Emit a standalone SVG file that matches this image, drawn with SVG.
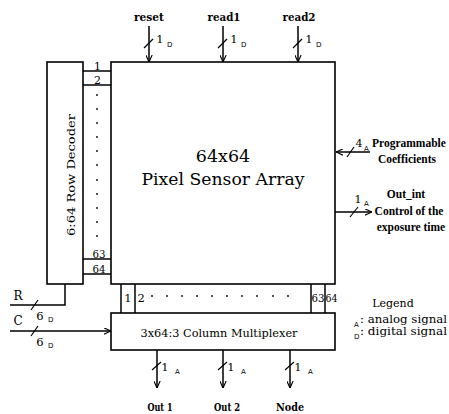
<svg xmlns="http://www.w3.org/2000/svg" width="449" height="414" viewBox="0 0 449 414">
<defs>
<marker id="ah" viewBox="0 0 10 10" refX="10" refY="5" markerUnits="userSpaceOnUse" markerWidth="7" markerHeight="7" orient="auto">
<path d="M0,0.5 L10,5 L0,9.5" fill="none" stroke="#000" stroke-width="1.6"/>
</marker>
</defs>
<style>
.box{fill:#fff;stroke:#000;stroke-width:1.6}
.ln{fill:none;stroke:#000;stroke-width:1.5}
.ar{fill:none;stroke:#000;stroke-width:1.5;marker-end:url(#ah)}
.sl{fill:none;stroke:#000;stroke-width:1.2}
.dot{fill:#000}
</style>
<rect width="449" height="414" fill="#fff"/>

<g id="row-decoder" font-family="DejaVu Serif">
<rect class="box" x="47" y="62" width="36" height="222"/>
<text font-size="11.5" text-anchor="middle" transform="translate(75,175) rotate(-90)" textLength="122" lengthAdjust="spacingAndGlyphs">6:64 Row Decoder</text>
</g>

<g id="row-strip" font-family="DejaVu Serif">
<line class="ln" x1="83" y1="71" x2="111" y2="71"/>
<line class="ln" x1="83" y1="85" x2="111" y2="85"/>
<line class="ln" x1="83" y1="259" x2="111" y2="259"/>
<line class="ln" x1="83" y1="274" x2="111" y2="274"/>
<text font-size="11" x="97.5" y="70" text-anchor="middle">1</text>
<text font-size="11" x="97.5" y="84" text-anchor="middle">2</text>
<text font-size="11" x="99" y="258" text-anchor="middle" textLength="13" lengthAdjust="spacingAndGlyphs">63</text>
<text font-size="11" x="99" y="272.5" text-anchor="middle" textLength="13" lengthAdjust="spacingAndGlyphs">64</text>
<g class="dot">
<circle cx="97" cy="95" r="0.9"/><circle cx="97" cy="109" r="0.9"/><circle cx="97" cy="123" r="0.9"/><circle cx="97" cy="137" r="0.9"/><circle cx="97" cy="151" r="0.9"/><circle cx="97" cy="165" r="0.9"/><circle cx="97" cy="180" r="0.9"/><circle cx="97" cy="194" r="0.9"/><circle cx="97" cy="208" r="0.9"/><circle cx="97" cy="222" r="0.9"/><circle cx="97" cy="236" r="0.9"/>
</g>
</g>

<g id="pixel-array" font-family="DejaVu Serif">
<rect class="box" x="111" y="62" width="224" height="222"/>
<text font-size="17.5" x="223" y="162" text-anchor="middle">64x64</text>
<text font-size="17.5" x="223" y="185" text-anchor="middle" textLength="163" lengthAdjust="spacingAndGlyphs">Pixel Sensor Array</text>
</g>

<g id="column-strip" font-family="DejaVu Serif">
<line class="ln" x1="121" y1="284" x2="121" y2="313"/>
<line class="ln" x1="135" y1="284" x2="135" y2="313"/>
<line class="ln" x1="311" y1="284" x2="311" y2="313"/>
<line class="ln" x1="325" y1="284" x2="325" y2="313"/>
<text font-size="11.5" x="128" y="302" text-anchor="middle">1</text>
<text font-size="11.5" x="137.5" y="302">2</text>
<text font-size="11.5" x="318" y="302" text-anchor="middle" textLength="13" lengthAdjust="spacingAndGlyphs">63</text>
<text font-size="11.5" x="331.5" y="302" text-anchor="middle" textLength="12" lengthAdjust="spacingAndGlyphs">64</text>
<g class="dot">
<circle cx="152" cy="296" r="0.9"/><circle cx="167" cy="296" r="0.9"/><circle cx="182" cy="296" r="0.9"/><circle cx="197" cy="296" r="0.9"/><circle cx="212" cy="296" r="0.9"/><circle cx="227" cy="296" r="0.9"/><circle cx="242" cy="296" r="0.9"/><circle cx="257" cy="296" r="0.9"/><circle cx="273" cy="296" r="0.9"/><circle cx="288" cy="296" r="0.9"/>
</g>
</g>

<g id="column-multiplexer" font-family="DejaVu Serif">
<rect class="box" x="111" y="313" width="224" height="37"/>
<text font-size="11.3" x="219" y="337" text-anchor="middle" textLength="157" lengthAdjust="spacingAndGlyphs">3x64:3 Column Multiplexer</text>
</g>

<g id="connectors">
<line class="ar" x1="149" y1="26" x2="149" y2="62"/>
<line class="sl" x1="144" y1="48" x2="153" y2="39"/>
<line class="ar" x1="223" y1="26" x2="223" y2="62"/>
<line class="sl" x1="218" y1="48" x2="227" y2="39"/>
<line class="ar" x1="298" y1="26" x2="298" y2="62"/>
<line class="sl" x1="293" y1="48" x2="302" y2="39"/>
<line class="ar" x1="370" y1="152" x2="336" y2="152"/>
<line class="sl" x1="347" y1="157" x2="354" y2="147"/>
<line class="ar" x1="335" y1="212" x2="372" y2="212"/>
<line class="sl" x1="350" y1="217" x2="358" y2="207"/>
<path class="ln" d="M10,305 H65 V284"/>
<line class="sl" x1="31" y1="310" x2="38" y2="300"/>
<line class="ar" x1="10" y1="331" x2="111" y2="331"/>
<line class="sl" x1="31" y1="336" x2="38" y2="326"/>
<line class="ar" x1="157" y1="350" x2="157" y2="388"/>
<line class="sl" x1="152" y1="370" x2="161" y2="362"/>
<line class="ar" x1="223" y1="350" x2="223" y2="388"/>
<line class="sl" x1="218" y1="370" x2="227" y2="362"/>
<line class="ar" x1="290" y1="350" x2="290" y2="388"/>
<line class="sl" x1="285" y1="370" x2="294" y2="362"/>
</g>

<g id="labels" font-family="DejaVu Serif">
<text font-size="11.5" font-weight="bold" x="149" y="21" text-anchor="middle" textLength="30" lengthAdjust="spacingAndGlyphs">reset</text>
<text font-size="11.5" font-weight="bold" x="224" y="21" text-anchor="middle" textLength="33" lengthAdjust="spacingAndGlyphs">read1</text>
<text font-size="11.5" font-weight="bold" x="299" y="21" text-anchor="middle" textLength="33" lengthAdjust="spacingAndGlyphs">read2</text>
<text font-size="11.5" x="160" y="43" text-anchor="middle">1</text><text font-family="DejaVu Sans" font-size="7" x="167" y="47">D</text>
<text font-size="11.5" x="234" y="43" text-anchor="middle">1</text><text font-family="DejaVu Sans" font-size="7" x="241" y="47">D</text>
<text font-size="11.5" x="309" y="43" text-anchor="middle">1</text><text font-family="DejaVu Sans" font-size="7" x="316" y="47">D</text>

<text font-size="11" x="359" y="147" text-anchor="middle">4</text><text font-family="DejaVu Sans" font-size="7" x="364" y="151">A</text>
<text font-family="Liberation Serif" font-weight="bold" font-size="11.5" x="372" y="147">Programmable</text>
<text font-family="Liberation Serif" font-weight="bold" font-size="11.5" x="407" y="163" text-anchor="middle">Coefficients</text>

<text font-size="11" x="358" y="203" text-anchor="middle">1</text><text font-family="DejaVu Sans" font-size="7" x="364" y="206">A</text>
<text font-family="Liberation Serif" font-weight="bold" font-size="11.5" x="406" y="198" text-anchor="middle">Out_int</text>
<text font-family="Liberation Serif" font-weight="bold" font-size="11.5" x="409" y="215" text-anchor="middle">Control of the</text>
<text font-family="Liberation Serif" font-weight="bold" font-size="11.5" x="411" y="231" text-anchor="middle">exposure time</text>

<text font-size="12" x="18" y="300" text-anchor="middle">R</text>
<text font-size="11.5" x="40" y="320" text-anchor="middle">6</text><text font-family="DejaVu Sans" font-size="7" x="48" y="322">D</text>
<text font-size="12" x="18" y="325" text-anchor="middle">C</text>
<text font-size="11.5" x="40" y="346" text-anchor="middle">6</text><text font-family="DejaVu Sans" font-size="7" x="48" y="348">D</text>

<text font-size="11.5" x="165" y="371" text-anchor="middle">1</text><text font-family="DejaVu Sans" font-size="7" x="175" y="374">A</text>
<text font-size="11.5" x="231" y="371" text-anchor="middle">1</text><text font-family="DejaVu Sans" font-size="7" x="241" y="374">A</text>
<text font-size="11.5" x="298" y="371" text-anchor="middle">1</text><text font-family="DejaVu Sans" font-size="7" x="308" y="374">A</text>

<text font-size="11.5" font-weight="bold" x="160" y="411" text-anchor="middle" textLength="25" lengthAdjust="spacingAndGlyphs">Out 1</text>
<text font-size="11.5" font-weight="bold" x="227" y="411" text-anchor="middle" textLength="26" lengthAdjust="spacingAndGlyphs">Out 2</text>
<text font-size="11.5" font-weight="bold" x="290" y="411" text-anchor="middle" textLength="28" lengthAdjust="spacingAndGlyphs">Node</text>
</g>

<g id="legend" font-family="DejaVu Serif">
<text font-size="11" x="393" y="307" text-anchor="middle">Legend</text>
<text font-family="DejaVu Sans" font-size="7" x="354" y="327">A</text>
<text font-size="10.5" x="360" y="323" textLength="87" lengthAdjust="spacingAndGlyphs">: analog signal</text>
<text font-family="DejaVu Sans" font-size="7" x="354" y="339">D</text>
<text font-size="10.5" x="360" y="335" textLength="87" lengthAdjust="spacingAndGlyphs">: digital signal</text>
</g>
</svg>
